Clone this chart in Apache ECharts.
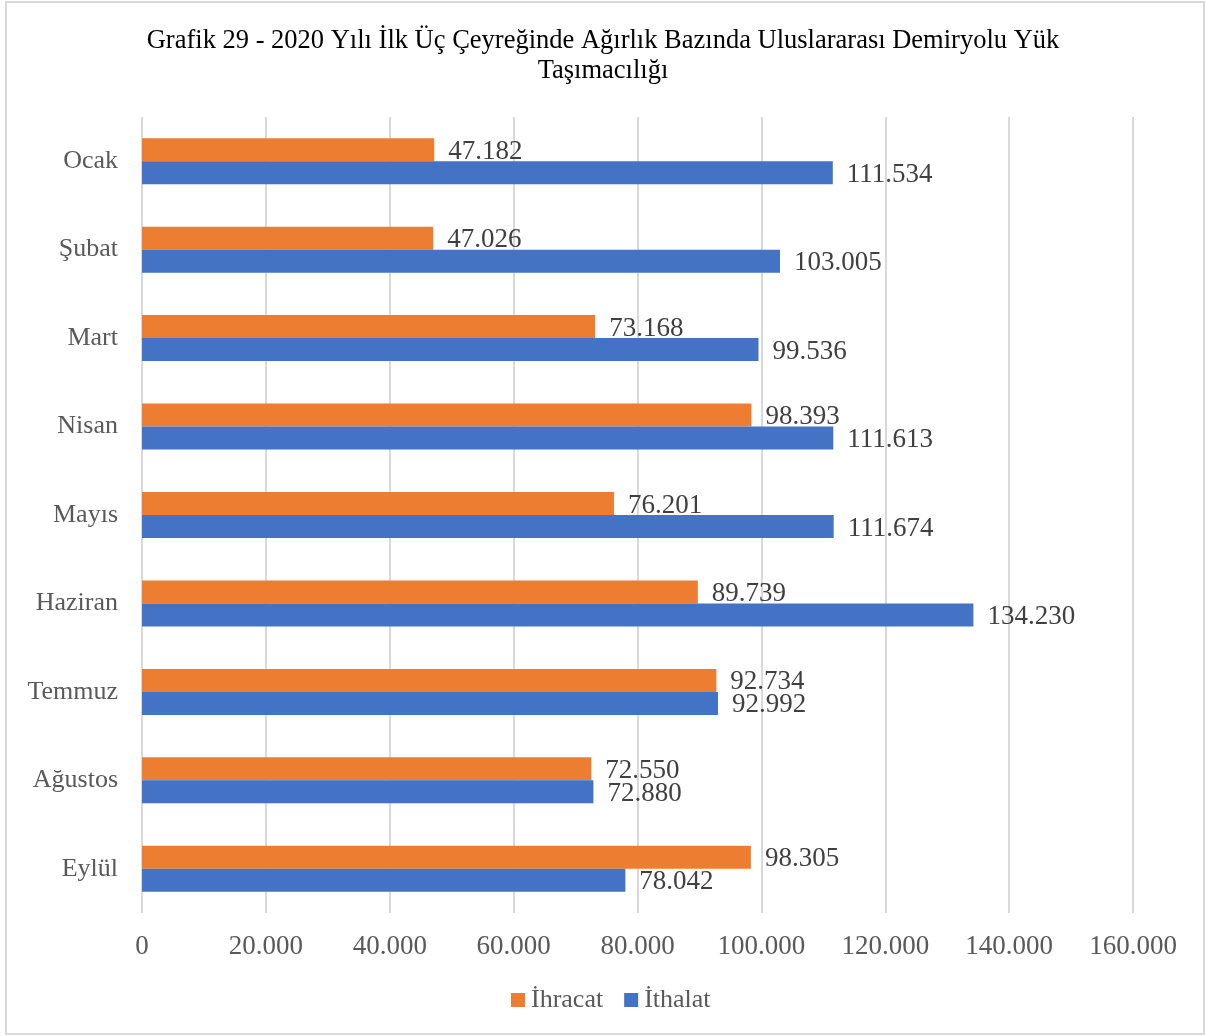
<!DOCTYPE html>
<html>
<head>
<meta charset="utf-8">
<script src="https://cdn.jsdelivr.net/npm/echarts@6/dist/echarts.min.js"></script>
<style>
html,body{margin:0;padding:0;background:#fff;}
#main{width:1206px;height:1036px;}
</style>
</head>
<body>
<div id="main"></div>
<script>
var months = ["Ocak","Şubat","Mart","Nisan","Mayıs","Haziran","Temmuz","Ağustos","Eylül"];
var ihracat = [47182,47026,73168,98393,76201,89739,92734,72550,98305];
var ithalat = [111534,103005,99536,111613,111674,134230,92992,72880,78042];
var xTicks = [0,20000,40000,60000,80000,100000,120000,140000,160000];

var FONT = '"Liberation Serif","Times New Roman",serif';

// türkçe binlik ayraç: 47182 -> 47.182
function fmt(v){
    return String(v).replace(/\B(?=(\d{3})+(?!\d))/g, ".");
}

window.onload = function(){
    var chart = echarts.init(document.getElementById("main"));
    var option = {
        backgroundColor:"#fff",
        animation:false,
        title:{
            text:"Grafik 29 - 2020 Yılı İlk Üç Çeyreğinde Ağırlık Bazında Uluslararası Demiryolu Yük\nTaşımacılığı",
            left:"center",
            top:21,
            textStyle:{fontFamily:FONT,fontSize:26.5,fontWeight:"normal",color:"#000",lineHeight:30,align:"center"}
        },
        legend:{
            bottom:18,
            left:506,
            itemWidth:14,
            itemHeight:14,
            itemGap:21,
            icon:"rect",
            textStyle:{fontFamily:FONT,fontSize:26,color:"#595959",padding:[0,0,0,1]},
            data:["İhracat","İthalat"]
        },
        graphic:[{
            type:"rect",
            shape:{x:6,y:2,width:1198,height:1032},
            style:{fill:"none",stroke:"#d9d9d9",lineWidth:2},
            silent:true
        }],
        grid:{left:142,right:73,top:117,bottom:123,containLabel:false},
        xAxis:{
            type:"value",
            min:0,
            max:160000,
            interval:20000,
            axisLine:{show:false},
            axisTick:{show:false},
            splitLine:{lineStyle:{color:"#d9d9d9",width:2}},
            axisLabel:{
                fontFamily:FONT,fontSize:27,color:"#595959",margin:20,
                formatter:function(v){return fmt(v);}
            }
        },
        yAxis:{
            type:"category",
            inverse:true,
            data:months,
            axisLine:{show:false},
            axisTick:{show:false},
            axisLabel:{fontFamily:FONT,fontSize:26,color:"#595959",margin:24,padding:[2,0,0,0]}
        },
        series:[
            {
                name:"İhracat",
                type:"bar",
                data:ihracat,
                barWidth:23,
                barGap:"0%",
                itemStyle:{color:"#ED7D31"},
                label:{
                    show:true,position:"right",distance:14,offset:[0,2],
                    fontFamily:FONT,fontSize:27,color:"#404040",
                    formatter:function(p){return fmt(p.value);}
                }
            },
            {
                name:"İthalat",
                type:"bar",
                data:ithalat,
                barWidth:23,
                barGap:"0%",
                itemStyle:{color:"#4472C4"},
                label:{
                    show:true,position:"right",distance:14,offset:[0,2],
                    fontFamily:FONT,fontSize:27,color:"#404040",
                    formatter:function(p){return fmt(p.value);}
                }
            }
        ]
    };
    chart.setOption(option);
};
</script>
</body>
</html>
